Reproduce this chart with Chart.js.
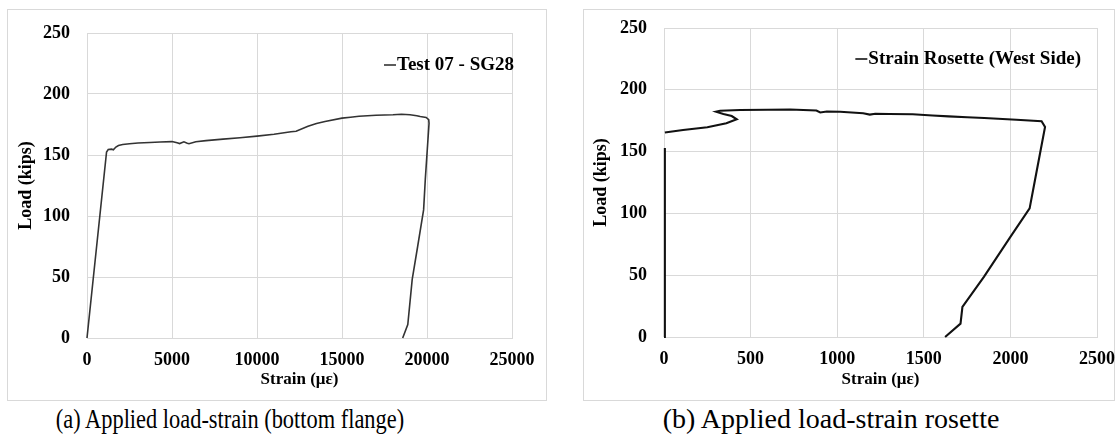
<!DOCTYPE html>
<html>
<head>
<meta charset="utf-8">
<script src="https://cdn.jsdelivr.net/npm/chart.js@4.4.1/dist/chart.umd.min.js"></script>
<style>
  html, body { margin: 0; padding: 0; background: #fff; }
  body { width: 1115px; height: 438px; position: relative; overflow: hidden; }
  .panel { position: absolute; border: 1px solid #d9d9d9; box-sizing: border-box; }
  canvas { position: absolute; }
  .caption {
    position: absolute; top: 403px; height: 32px; line-height: 32px; width: 500px;
    font-family: 'Liberation Serif', 'Times New Roman', serif;
    font-size: 28px; color: #000; text-align: center; white-space: nowrap;
  }
</style>
</head>
<body>
<div class="panel" style="left:7px;top:9px;width:540px;height:392px;"></div>
<div class="panel" style="left:583px;top:9px;width:532px;height:392px;"></div>
<canvas id="chartA" width="538" height="390" style="left:8px;top:10px;width:538px;height:390px;"></canvas>
<canvas id="chartB" width="531" height="390" style="left:584px;top:10px;width:531px;height:390px;"></canvas>
<div class="caption" style="left:-20px;transform:scaleX(0.8);">(a) Applied load-strain (bottom flange)</div>
<div class="caption" style="left:581px;">(b) Applied load-strain rosette</div>

<script>
// Test 07 - SG28, bottom flange gauge (strain in microstrain, load in kips)
const sg28Strain = [0, 1150, 1250, 1450, 1550, 1700, 1850, 2100, 2500, 3000, 3700, 4300, 5000,
  5300, 5450, 5700, 5900, 6000, 6400, 7000, 8000, 9000, 10000, 11000, 12000, 12300, 13000,
  13500, 14000, 15000, 15500, 16000, 17000, 18000, 18500, 19000, 19400, 19600, 19950, 20100,
  20120, 19900, 19800, 19450, 19130, 18870, 18570];
const sg28Load = [0, 152.5, 154.5, 154.8, 154.3, 156.5, 157.8, 158.6, 159.2, 159.8, 160.2, 160.6, 161,
  160, 159.4, 160.8, 159.6, 159.2, 160.8, 161.8, 163, 164.2, 165.5, 167, 169, 169.5, 173.5,
  175.8, 177.5, 180.2, 181, 181.8, 182.6, 183, 183.4, 183, 182.2, 181.5, 180.8, 179,
  176, 130, 105, 75, 48, 11, 0];

// Strain rosette on the west side (null marks a break in the record)
const rosetteStrain = [0, 5, 5, 5, 110, 250, 360, 420, 391, 343, 300, 324, 440, 600, 728, 880,
  902, 940, 1017, 1150, 1188, 1220, 1300, 1436, 1550, 1643, 1750, 1849, 2035, 2180, 2200,
  2142, 2111, 2000, 1847, 1723, 1712, 1623];
const rosetteLoad = [0, 153, null, 165.4, 167.5, 169.7, 172.9, 176.1, 178.8, 180.4, 182.3, 183.1,
  183.6, 183.8, 184.1, 183.2, 181.7, 182.4, 182.3, 181, 179.9, 180.6, 180.4, 180.2, 179.2,
  178.5, 177.8, 177.2, 175.8, 174.6, 170, 127, 104, 81, 48.6, 24.3, 10.8, 0];

const loadTicks = [0, 50, 100, 150, 200, 250];
const strainTicksA = [0, 5000, 10000, 15000, 20000, 25000];
const strainTicksB = [0, 500, 1000, 1500, 2000, 2500];

const seriesNameA = 'Test 07 - SG28';
const seriesNameB = 'Strain Rosette (West Side)';

Chart.defaults.font.family = "'Liberation Serif', 'Times New Roman', serif";
Chart.defaults.color = '#000';

function pairs(xs, ys) {
  return xs.map((x, i) => ({ x: x, y: ys[i] }));
}

// Legend drawn inside the plot, right-aligned at its top
const innerLegend = {
  id: 'innerLegend',
  afterDraw(chart, args, opts) {
    const ds = chart.data.datasets[0];
    const ctx = chart.ctx;
    const area = chart.chartArea;
    ctx.save();
    ctx.font = 'bold 19px ' + Chart.defaults.font.family;
    ctx.fillStyle = '#000';
    ctx.textBaseline = 'middle';
    ctx.textAlign = 'right';
    const xr = area.right + opts.dx;
    const y = area.top + opts.dy;
    const w = ctx.measureText(ds.label).width;
    ctx.fillText(ds.label, xr, y);
    ctx.strokeStyle = ds.borderColor;
    ctx.lineWidth = 1.6;
    ctx.beginPath();
    ctx.moveTo(xr - w - 13, y);
    ctx.lineTo(xr - w - 1, y);
    ctx.stroke();
    ctx.restore();
  }
};

function makeChart(id, label, xs, ys, lineColor, lineW, xTicks, geom, legendPos) {
  const xmax = xTicks[xTicks.length - 1];
  return new Chart(document.getElementById(id), {
    type: 'scatter',
    data: {
      datasets: [{
        label: label,
        data: pairs(xs, ys),
        showLine: true,
        spanGaps: false,
        borderColor: lineColor,
        borderWidth: lineW,
        pointRadius: 0,
        tension: 0,
        clip: 4
      }]
    },
    options: {
      responsive: false,
      animation: false,
      events: [],
      layout: { padding: { top: geom.top, right: geom.right, left: 0, bottom: 0 } },
      plugins: {
        legend: { display: false },
        tooltip: { enabled: false },
        innerLegend: legendPos
      },
      scales: {
        x: {
          type: 'linear',
          min: 0, max: xmax,
          afterBuildTicks: s => { s.ticks = xTicks.map(v => ({ value: v })); },
          afterFit: s => {
            s.height = geom.xh;
            s.paddingLeft = 0; s.paddingRight = 0;
          },
          grid: { color: '#d9d9d9', lineWidth: 1, drawTicks: false },
          border: { color: '#d9d9d9', width: 1 },
          ticks: {
            padding: 12, maxRotation: 0,
            font: { size: 18, weight: 'bold' },
            callback: v => String(v)
          },
          title: {
            display: true, text: 'Strain (με)',
            font: { size: 17, weight: 'bold' },
            padding: { top: 0, bottom: 10 }
          }
        },
        y: {
          type: 'linear',
          min: 0, max: 250,
          afterBuildTicks: s => { s.ticks = loadTicks.map(v => ({ value: v })); },
          afterFit: s => {
            s.width = geom.yw;
            s.paddingTop = 0; s.paddingBottom = 0;
          },
          grid: { color: '#d9d9d9', lineWidth: 1, drawTicks: false },
          border: { color: '#d9d9d9', width: 1 },
          ticks: {
            padding: 17,
            font: { size: 18, weight: 'bold' },
            callback: v => String(v)
          },
          title: {
            display: true, text: 'Load (kips)',
            font: { size: 18, weight: 'bold' },
            padding: { top: geom.ytp, bottom: 0 }
          }
        }
      }
    },
    plugins: [innerLegend]
  });
}

makeChart('chartA', seriesNameA, sg28Strain, sg28Load, '#333333', 1.6, strainTicksA,
  { top: 23, right: 34, xh: 62, yw: 79, ytp: 8 }, { dx: 2, dy: 32 });
makeChart('chartB', seriesNameB, rosetteStrain, rosetteLoad, '#111111', 2.1, strainTicksB,
  { top: 18, right: 18, xh: 63, yw: 80, ytp: 7 }, { dx: -16, dy: 31 });
</script>
</body>
</html>
